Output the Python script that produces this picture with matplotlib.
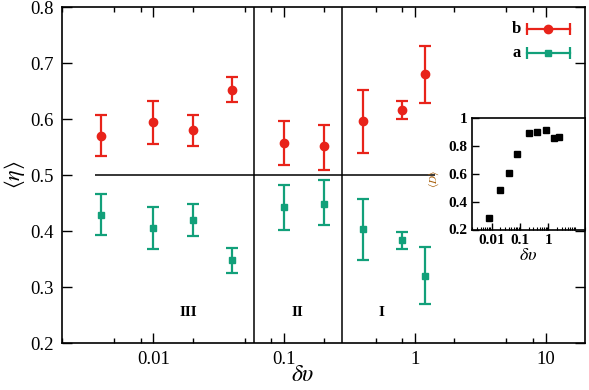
import numpy as np
import matplotlib
matplotlib.use("Agg")
import matplotlib.pyplot as plt
from matplotlib.ticker import FixedLocator, FixedFormatter, LogLocator, NullFormatter

plt.rcParams['font.family'] = ['Liberation Serif', 'DejaVu Serif']
plt.rcParams['mathtext.fontset'] = 'stix'

# ---- data ----
dv = [0.004, 0.01, 0.02, 0.04, 0.1, 0.2, 0.4, 0.8, 1.2]
eta_b = [0.570, 0.594, 0.580, 0.652, 0.557, 0.551, 0.596, 0.616, 0.680]
eta_b_lo = [0.534, 0.555, 0.552, 0.630, 0.517, 0.509, 0.540, 0.600, 0.628]
eta_b_hi = [0.607, 0.633, 0.607, 0.675, 0.596, 0.589, 0.652, 0.633, 0.730]
eta_a = [0.429, 0.405, 0.419, 0.348, 0.442, 0.449, 0.403, 0.384, 0.319]
eta_a_lo = [0.392, 0.367, 0.391, 0.325, 0.401, 0.411, 0.348, 0.367, 0.269]
eta_a_hi = [0.466, 0.442, 0.448, 0.370, 0.482, 0.491, 0.458, 0.399, 0.371]

inset_dv = [0.008, 0.02, 0.04, 0.08, 0.2, 0.4, 0.8, 1.6, 2.4]
inset_D = [0.279, 0.483, 0.604, 0.741, 0.889, 0.903, 0.913, 0.860, 0.867]

region_labels = ['III', 'II', 'I']
region_x = [0.0185, 0.126, 0.56]
region_y = 0.254
boundaries = [0.059, 0.277]
hline_y = 0.5
hline_x = [0.0036, 1.42]

xticks_major = [0.01, 0.1, 1, 10]
xtick_labels = ['0.01', '0.1', '1', '10']
xticks_minor = [0.002, 0.005, 0.008, 0.02, 0.05, 0.08, 0.2, 0.5, 0.8, 2, 5, 8]
yticks = [0.2, 0.3, 0.4, 0.5, 0.6, 0.7, 0.8]
inset_yticks = [0.2, 0.4, 0.6, 0.8, 1.0]
inset_ytick_labels = ['0.2', '0.4', '0.6', '0.8', '1']

RED = '#e8231a'
GREEN = '#12a07a'

fig = plt.figure(figsize=(5.89, 3.90), dpi=100)
ax = fig.add_axes([62/589, 1-343/390, 523/589, 336/390])

dv_arr = np.array(dv)
b = np.array(eta_b); a = np.array(eta_a)
ax.errorbar(dv_arr, b, yerr=[b-np.array(eta_b_lo), np.array(eta_b_hi)-b], fmt='o', color=RED,
            ms=6, capsize=4.5, elinewidth=1.6, capthick=1.6, zorder=3)
ax.errorbar(dv_arr, a, yerr=[a-np.array(eta_a_lo), np.array(eta_a_hi)-a], fmt='s', color=GREEN,
            ms=4.2, capsize=4.5, elinewidth=1.6, capthick=1.6, zorder=3)

ax.hlines(hline_y, hline_x[0], hline_x[1], color='black', lw=1.1)
for bx in boundaries:
    ax.axvline(bx, color='black', lw=1.1)

for lab, x in zip(region_labels, region_x):
    ax.text(x, region_y, lab, ha='center', va='center', fontsize=11, fontweight='bold')

ax.set_xscale('log')
ax.set_xlim(0.002, 20)
ax.set_ylim(0.2, 0.8)
ax.xaxis.set_major_locator(FixedLocator(xticks_major))
ax.xaxis.set_major_formatter(FixedFormatter(xtick_labels))
ax.xaxis.set_minor_locator(FixedLocator(xticks_minor))
ax.xaxis.set_minor_formatter(NullFormatter())
ax.set_yticks(yticks)
ax.set_yticklabels([f'{v:.1f}' for v in yticks])
ax.tick_params(axis='both', which='major', direction='in', length=7, width=1,
               top=True, right=True, labelsize=13.5, pad=6)
ax.tick_params(axis='both', which='minor', direction='in', length=3.6, width=1, top=True, right=True)
for s in ax.spines.values():
    s.set_linewidth(1.2)

ax.set_xlabel(r'$\delta\upsilon$', fontsize=17)
ax.xaxis.set_label_coords(0.461, -0.065)
ax.set_ylabel(r'$\langle\eta\rangle$', fontsize=16)
ax.yaxis.set_label_coords(-0.066, 0.5)

# legend drawn in axes coordinates
for yy, col, mk, ms, lab in [(0.9345, RED, 'o', 6, 'b'), (0.863, GREEN, 's', 4.2, 'a')]:
    ax.plot([0.889, 0.971], [yy, yy], color=col, lw=1.6, transform=ax.transAxes, clip_on=False)
    ax.plot([0.889, 0.971], [yy, yy], ls='none', marker='|', ms=9, mew=1.6, color=col,
            transform=ax.transAxes, clip_on=False)
    ax.plot([0.929], [yy], ls='none', marker=mk, ms=ms, color=col, transform=ax.transAxes, clip_on=False)
    ax.text(0.878, yy, lab, ha='right', va='center', fontsize=12, fontweight='bold',
            transform=ax.transAxes)

# inset
ins = fig.add_axes([472/589, 1-229.5/390, 113/589, 111.5/390])
ins.plot(inset_dv, inset_D, ls='none', marker='s', ms=4.5, color='black')
ins.set_xscale('log')
ins.set_xlim(0.002, 20)
ins.set_ylim(0.2, 1.0)
ins.xaxis.set_major_locator(FixedLocator([0.01, 0.1, 1]))
ins.xaxis.set_major_formatter(FixedFormatter(['0.01', '0.1', '1']))
ins.xaxis.set_minor_locator(LogLocator(base=10, subs=np.arange(2, 10), numticks=20))
ins.xaxis.set_minor_formatter(NullFormatter())
ins.set_yticks(inset_yticks)
ins.set_yticklabels(inset_ytick_labels)
ins.tick_params(axis='both', which='major', direction='in', length=5, width=1,
                labelsize=11, pad=3)
ins.tick_params(axis='both', which='minor', direction='in', length=2.5, width=0.8)
for t in ins.get_xticklabels() + ins.get_yticklabels():
    t.set_fontweight('bold')
for s in ins.spines.values():
    s.set_linewidth(1.2)
ins.set_xlabel(r'$\delta\upsilon$', fontsize=13, labelpad=0)
ins.set_ylabel(r'$\langle D\rangle$', fontsize=8, color='#a8600c', labelpad=0)
ins.yaxis.set_label_coords(-0.27, 0.45)

fig.savefig('out.png', dpi=100)
